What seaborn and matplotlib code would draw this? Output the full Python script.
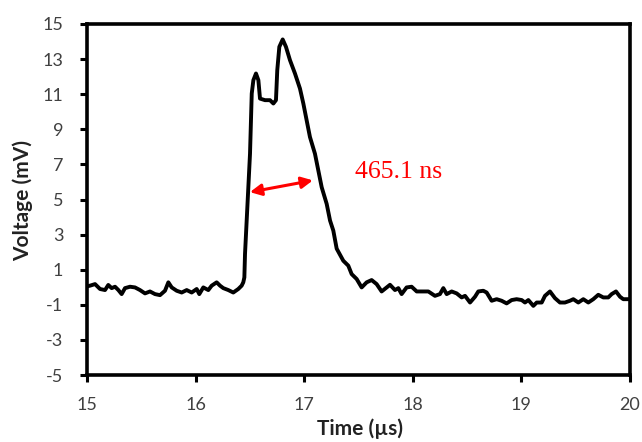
import matplotlib
matplotlib.use("Agg")
import matplotlib.pyplot as plt
import seaborn as sns
import pandas as pd

# ---- data ----
time_us = [15.00, 15.028, 15.074, 15.12, 15.166, 15.196, 15.227, 15.258, 15.289, 15.319,
           15.35, 15.396, 15.442, 15.488, 15.534, 15.58, 15.626, 15.672, 15.718, 15.749,
           15.78, 15.826, 15.872, 15.918, 15.964, 16.01, 16.034, 16.071, 16.117, 16.148,
           16.194, 16.225, 16.255, 16.301, 16.347, 16.393, 16.424, 16.439, 16.449, 16.455,
           16.47, 16.485, 16.501, 16.51, 16.517, 16.532, 16.556, 16.578, 16.593, 16.639,
           16.685, 16.716, 16.74, 16.752, 16.771, 16.802, 16.832, 16.869, 16.915, 16.961,
           16.992, 17.023, 17.053, 17.099, 17.13, 17.161, 17.207, 17.238, 17.268, 17.299,
           17.36, 17.406, 17.437, 17.483, 17.529, 17.575, 17.621, 17.667, 17.713, 17.759,
           17.79, 17.836, 17.867, 17.897, 17.943, 17.989, 18.036, 18.097, 18.143, 18.204,
           18.25, 18.281, 18.312, 18.358, 18.404, 18.45, 18.481, 18.527, 18.573, 18.603,
           18.649, 18.68, 18.726, 18.772, 18.818, 18.864, 18.91, 18.956, 19.003, 19.033,
           19.064, 19.11, 19.141, 19.187, 19.217, 19.263, 19.309, 19.355, 19.401, 19.447,
           19.478, 19.524, 19.57, 19.616, 19.662, 19.708, 19.754, 19.8, 19.831, 19.871,
           19.908, 19.938, 19.969, 20.0]
voltage_mv = [0.05, 0.09, 0.18, -0.10, -0.16, 0.13, -0.05, 0.03, -0.16, -0.39,
              -0.05, 0.03, -0.01, -0.16, -0.35, -0.24, -0.39, -0.45, -0.20, 0.28,
              -0.01, -0.20, -0.30, -0.16, -0.30, -0.10, -0.39, -0.01, -0.16, 0.09,
              0.28, 0.09, -0.05, -0.16, -0.30, -0.10, 0.09, 0.28, 0.56, 1.90,
              3.80, 5.70, 7.61, 9.51, 11.04, 11.80, 12.18, 11.80, 10.75, 10.66,
              10.66, 10.47, 10.66, 12.37, 13.70, 14.12, 13.70, 12.94, 12.18, 11.32,
              10.47, 9.51, 8.56, 7.61, 6.66, 5.70, 4.75, 3.80, 3.23, 2.20,
              1.51, 1.23, 0.75, 0.47, -0.01, 0.28, 0.41, 0.18, -0.24, -0.01,
              0.14, -0.16, -0.05, -0.39, -0.01, 0.03, -0.24, -0.24, -0.24, -0.49,
              -0.39, -0.05, -0.39, -0.24, -0.35, -0.58, -0.49, -0.87, -0.54, -0.24,
              -0.20, -0.30, -0.77, -0.68, -0.77, -0.92, -0.73, -0.68, -0.73, -0.87,
              -0.73, -1.06, -0.87, -0.87, -0.49, -0.24, -0.62, -0.87, -0.87, -0.77,
              -0.68, -0.87, -0.68, -0.87, -0.68, -0.43, -0.58, -0.58, -0.39, -0.24,
              -0.54, -0.68, -0.68, -0.68]
x_ticks = [15, 16, 17, 18, 19, 20]
y_ticks = [-5, -3, -1, 1, 3, 5, 7, 9, 11, 13, 15]
x_label = "Time (µs)"
y_label = "Voltage (mV)"
annotation_text = "465.1 ns"
annotation_pos = (17.47, 6.54)
arrow_start = (16.50, 5.42)
arrow_end = (17.08, 6.09)

sns.set_style("ticks")
plt.rcParams['font.family'] = ['Lato', 'DejaVu Sans']
plt.rcParams['axes.unicode_minus'] = False

fig = plt.figure(figsize=(6.42, 4.42), dpi=100)
ax = fig.add_axes([87 / 642, 1 - 375 / 442, (630 - 87) / 642, (375 - 24) / 442])

df = pd.DataFrame({"Time": time_us, "Voltage": voltage_mv})
sns.lineplot(data=df, x="Time", y="Voltage", ax=ax, color="black", lw=2.8,
             solid_joinstyle="round", solid_capstyle="round")

ax.set_xlim(15, 20)
ax.set_ylim(-5, 15)
ax.set_xticks(x_ticks)
ax.set_yticks(y_ticks)
for s in ax.spines.values():
    s.set_linewidth(2.6)
    s.set_color("black")
ax.tick_params(direction="out", length=5, width=2.2, color="black",
               labelsize=13, labelcolor="#404040")
ax.tick_params(axis="y", pad=12)
ax.tick_params(axis="x", pad=11)

ax.set_xlabel(x_label, fontweight="bold", fontsize=15, color="#222222")
ax.set_ylabel(y_label, fontweight="bold", fontsize=15, color="#222222")
ax.xaxis.set_label_coords(0.503, -0.125)
ax.yaxis.set_label_coords(-0.10, 0.496)

ax.annotate("", xy=arrow_end, xytext=arrow_start,
            arrowprops=dict(arrowstyle="<|-|>", color="red", lw=2.2,
                            mutation_scale=17, shrinkA=0, shrinkB=0))
ax.text(annotation_pos[0], annotation_pos[1], annotation_text, color="red",
        fontsize=18.5, family=["Liberation Serif"], ha="left", va="center")

fig.savefig("out.png", dpi=100)
